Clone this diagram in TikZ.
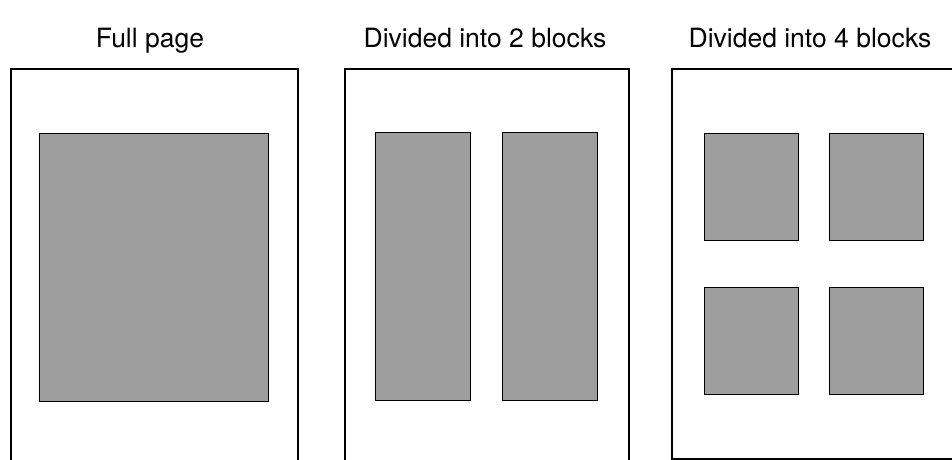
\documentclass[tikz,border=0pt]{standalone}
\usepackage{fontspec}
\setmainfont{TeX Gyre Heros}
\usetikzlibrary{positioning}

\begin{document}
\begin{tikzpicture}[
  x=1pt, y=-1pt,
  page/.style={draw, line width=1.6pt, inner sep=0pt, anchor=north west},
  blk/.style={draw, line width=1.3pt, fill=black!38, inner sep=0pt, anchor=north west},
  title/.style={anchor=base, font=\fontsize{26.5}{31}\selectfont}
]
\useasboundingbox (0,0) rectangle (952,459);
\clip (0,0) rectangle (952,459);

% pages
\node[page, minimum width=287pt, minimum height=400pt] (full) at (10,68) {};
\node[page, minimum width=284pt, minimum height=400pt] (two) at (344,68) {};
\node[page, minimum width=300pt, minimum height=390pt] (four) at (671,68) {};

% titles
\node[title] (tfull) at (150,47) {Full page};
\node[title] (ttwo) at (485,47) {Divided into 2 blocks};
\node[title] (tfour) at (810,47) {Divided into 4 blocks};

% blocks
\node[blk, minimum width=229pt, minimum height=268pt] (b1) at (39,133) {};

\node[blk, minimum width=95pt, minimum height=268pt] (b2a) at (375,132) {};
\node[blk, minimum width=95pt, minimum height=268pt] (b2b) at (502,132) {};

\node[blk, minimum width=94pt, minimum height=107pt] (b4a) at (704,133) {};
\node[blk, minimum width=94pt, minimum height=107pt] (b4b) at (829,133) {};
\node[blk, minimum width=94pt, minimum height=107pt] (b4c) at (704,287) {};
\node[blk, minimum width=94pt, minimum height=107pt] (b4d) at (829,287) {};
\end{tikzpicture}
\end{document}
